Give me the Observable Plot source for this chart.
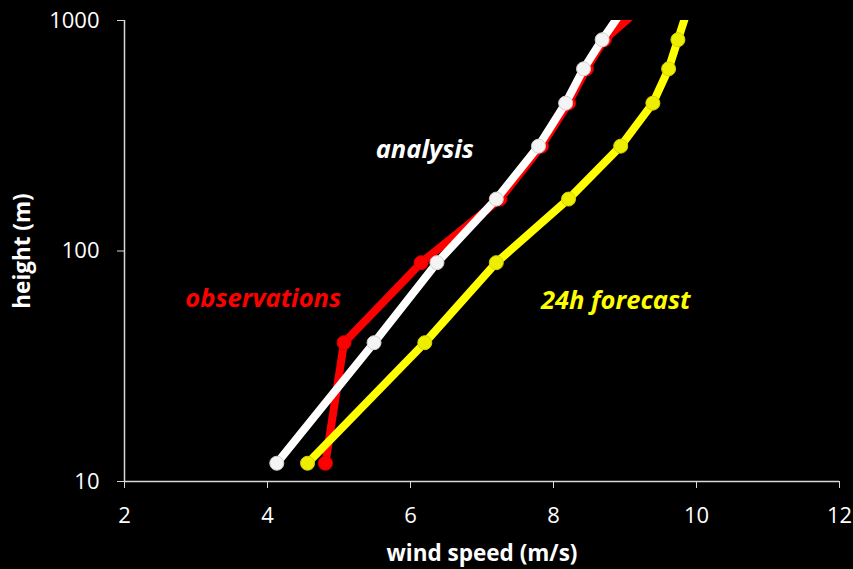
<!DOCTYPE html>
<html>
<head>
<meta charset="utf-8">
<script src="https://cdn.jsdelivr.net/npm/d3@7"></script>
<script src="https://cdn.jsdelivr.net/npm/@observablehq/plot@0.6"></script>
<style>
  html, body { margin: 0; padding: 0; background: #000; }
</style>
</head>
<body>
<div id="chart"></div>
<script>
// Heights (m) of the profile levels (last level lies above the plotted range)
const heights = [12, 40, 89, 168, 285, 438, 617, 825, 1100];
// Wind speed (m/s) per series
const observations = [4.81, 5.07, 6.15, 7.25, 7.83, 8.21, 8.46, 8.71, 9.17];
const analysis = [4.13, 5.49, 6.37, 7.20, 7.79, 8.17, 8.42, 8.68, 8.96];
const forecast = [4.56, 6.20, 7.20, 8.21, 8.94, 9.39, 9.61, 9.74, 9.87];
// Tick values
const xTicks = [2, 4, 6, 8, 10, 12];
const yTicks = [10, 100, 1000];
// Series labels and their positions (data coordinates)
const labelNames = ["observations", "analysis", "24h forecast"];
const labelX = [3.94, 6.20, 8.87];
const labelY = [62, 275, 61];

const seriesColors = ["#ff0000", "#ffffff", "#ffff00"];
const dotFill = ["#ff0000", "#f4f4f4", "#eeee00"];
const dotStroke = ["#e00000", "#d0d0d0", "#d4d400"];

const mk = (vals) => heights.map((h, i) => ({h, v: vals[i]}));
const series = [mk(observations), mk(analysis), mk(forecast)];
const labels = labelNames.map((name, i) => ({name, x: labelX[i], y: labelY[i], color: seriesColors[i]}));

const marks = [
  Plot.ruleX([2], {stroke: "#d9d9d9", strokeWidth: 1.5}),
  Plot.ruleY([10], {stroke: "#d9d9d9", strokeWidth: 1.5})
];
// draw order: observations, forecast, analysis (white on top)
[0, 2, 1].forEach(i => {
  marks.push(Plot.line(series[i], {x: "v", y: "h", stroke: seriesColors[i], strokeWidth: 8, clip: true}));
  marks.push(Plot.dot(series[i], {x: "v", y: "h", r: 7, fill: dotFill[i], stroke: dotStroke[i], strokeWidth: 1, clip: true}));
});
marks.push(Plot.text(labels, {x: "x", y: "y", text: "name", fill: "color", fontSize: 25.5, fontWeight: "bold", fontStyle: "italic"}));
marks.push(Plot.text(["wind speed (m/s)"], {frameAnchor: "bottom", dy: 72, lineAnchor: "middle", textAnchor: "middle", fontSize: 22.5, fontWeight: "bold", fill: "white"}));
marks.push(Plot.text(["height (m)"], {frameAnchor: "left", dx: -102, rotate: -90, lineAnchor: "middle", textAnchor: "middle", fontSize: 22.5, fontWeight: "bold", fill: "white"}));

const chart = Plot.plot({
  width: 853,
  height: 569,
  marginLeft: 124,
  marginRight: 14,
  marginTop: 20,
  marginBottom: 88,
  style: {background: "black", color: "white", fontSize: "22px", fontFamily: "'Open Sans', sans-serif"},
  x: {domain: [2, 12], ticks: xTicks, tickSize: 7, tickPadding: 19, label: null, tickFormat: d => String(d)},
  y: {type: "log", domain: [10, 1000], ticks: yTicks, tickSize: 7, tickPadding: 18, label: null, tickFormat: d => String(d)},
  marks
});
chart.querySelectorAll("[aria-label$='axis'] path, [aria-label$='tick'] path").forEach(p => p.setAttribute("stroke", "#d9d9d9"));
document.getElementById("chart").appendChild(chart);
</script>
</body>
</html>
